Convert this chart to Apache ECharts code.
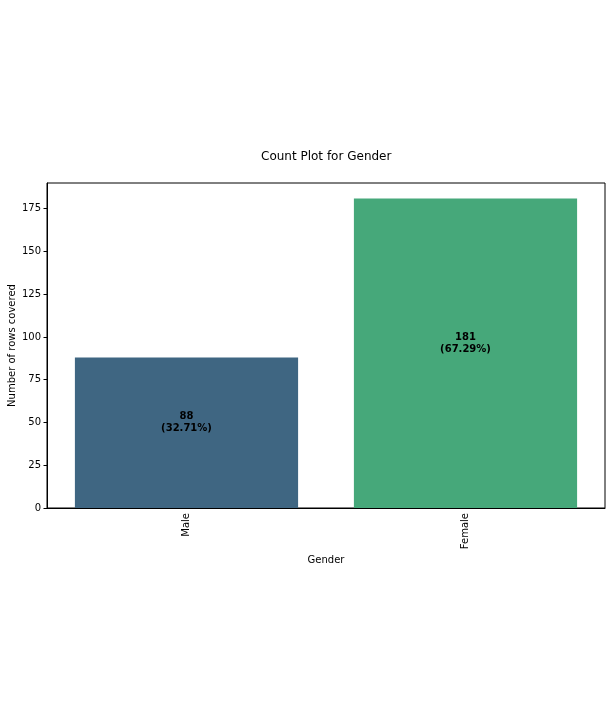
<!DOCTYPE html>
<html>
<head>
<meta charset="utf-8">
<script src="https://cdn.jsdelivr.net/npm/echarts@6/dist/echarts.min.js"></script>
<style>html,body{margin:0;padding:0;background:#fff;}#c{width:612px;height:717px;}</style>
</head>
<body>
<div id="c"></div>
<script>
const categories = ["Male", "Female"];
const counts = [88, 181];
const percents = ["32.71%", "67.29%"];
const barColors = ["#3f6682", "#46a87a"];
const yTicks = [0, 25, 50, 75, 100, 125, 150, 175];

const chart = echarts.init(document.getElementById('c'), null, {renderer: 'canvas'});
const font = 'DejaVu Sans';
chart.setOption({
  animation: false,
  backgroundColor: '#fff',
  title: {
    text: 'Count Plot for Gender',
    left: 261, top: 151, padding: 0,
    textStyle: {fontFamily: font, fontSize: 12, fontWeight: 'normal', color: '#000'}
  },
  grid: {left: 47, right: 7, top: 183, bottom: 209, show: true, borderColor: '#000', borderWidth: 1,
    containLabel: false, outerBoundsMode: 'none'},
  xAxis: {
    type: 'category',
    data: categories,
    name: 'Gender',
    nameLocation: 'middle',
    nameGap: 47,
    nameMoveOverlap: false,
    nameTextStyle: {fontFamily: font, fontSize: 10, color: '#000'},
    axisLine: {lineStyle: {color: '#000', width: 1}},
    axisTick: {alignWithLabel: true, length: 3.5, lineStyle: {color: '#000'}},
    axisLabel: {rotate: 90, fontFamily: font, fontSize: 10, color: '#000', margin: 5}
  },
  yAxis: {
    type: 'value',
    min: 0, max: 190.05, interval: 25,
    name: 'Number of rows covered',
    nameLocation: 'middle',
    nameGap: 30,
    nameMoveOverlap: false,
    nameTextStyle: {fontFamily: font, fontSize: 10, color: '#000'},
    splitLine: {show: false},
    axisLine: {show: true, lineStyle: {color: '#000', width: 1}},
    axisTick: {show: true, length: 3.5, lineStyle: {color: '#000'}, customValues: yTicks},
    axisLabel: {fontFamily: font, fontSize: 10, color: '#000', margin: 6, customValues: yTicks}
  },
  series: [{
    type: 'bar',
    barWidth: '80%',
    data: counts.map((v, i) => ({value: v, itemStyle: {color: barColors[i]},
      label: {formatter: v + '\n(' + percents[i] + ')'}})),
    label: {
      show: true, position: 'inside', offset: [0, -10],
      fontFamily: font, fontSize: 10, fontWeight: 'bold', color: '#000', lineHeight: 12
    }
  }]
});
</script>
</body>
</html>
